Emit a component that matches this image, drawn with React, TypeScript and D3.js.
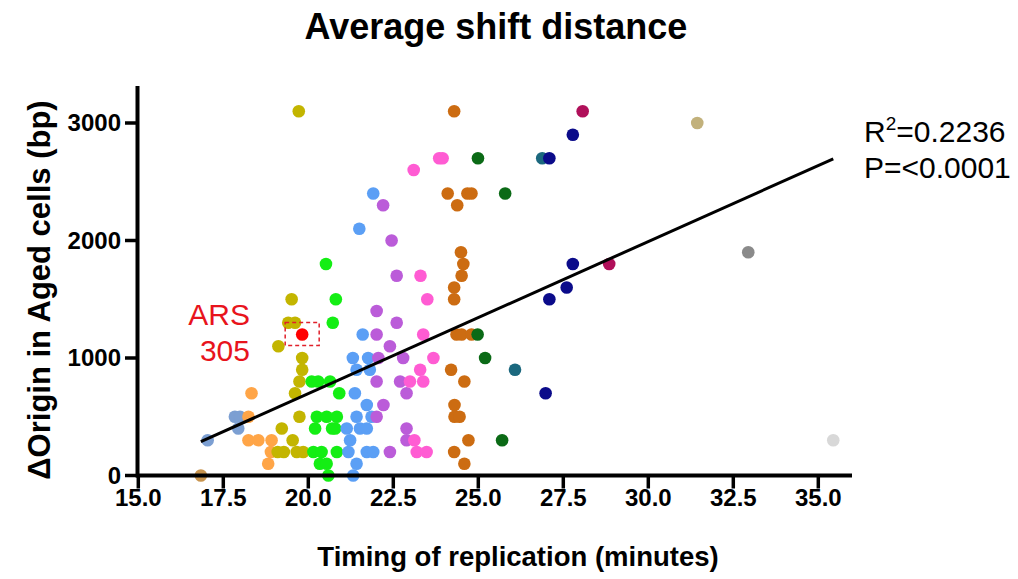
import React from "react";
import * as d3 from "d3";

// ---- data (timing of replication in minutes, ΔOrigin in bp) ----
const tan: [number, number][] = [[16.84, 0]];
const steelBlue: [number, number][] = [[17.04, 300], [17.84, 500], [17.99, 500], [17.94, 400]];
const lightOrange: [number, number][] = [
  [18.33, 700], [18.24, 500], [18.24, 300], [18.53, 300], [18.92, 300], [18.9, 200], [18.82, 100],
];
const olive: [number, number][] = [
  [19.72, 3100], [19.51, 1500], [19.41, 1300], [19.61, 1300], [19.12, 1100], [19.82, 1000],
  [19.82, 900], [19.74, 800], [19.61, 700], [19.74, 500], [19.22, 400], [19.54, 300],
  [19.1, 200], [19.28, 200], [19.66, 200], [19.85, 200],
];
const ars305: [number, number][] = [[19.82, 1200]];
const green: [number, number][] = [
  [20.52, 1800], [20.81, 1500], [20.72, 1300], [20.1, 800], [20.29, 800], [20.64, 800],
  [20.91, 700], [20.25, 500], [20.54, 500], [20.84, 500], [20.2, 400], [20.7, 400], [20.79, 400],
  [20.15, 200], [20.39, 200], [20.84, 200], [20.34, 100], [20.54, 100], [20.59, 0],
];
const blue: [number, number][] = [
  [21.91, 2400], [21.5, 2100], [21.6, 1200], [21.31, 1000], [21.76, 1000], [21.42, 900],
  [21.81, 900], [21.37, 700], [21.72, 600], [21.42, 500], [21.86, 500], [21.13, 400],
  [21.52, 400], [21.72, 400], [21.23, 300], [21.18, 200], [21.72, 200], [21.91, 200],
  [21.42, 100], [21.32, 0],
];
const purple: [number, number][] = [
  [22.2, 2300], [22.45, 2000], [22.6, 1700], [22.01, 1400], [22.6, 1300], [22.01, 1200],
  [22.4, 1100], [22.06, 1000], [22.79, 1000], [22.01, 800], [22.7, 800], [22.89, 700],
  [22.21, 600], [22.01, 500], [22.89, 400], [22.89, 300], [22.4, 200],
];
const pink: [number, number][] = [
  [23.85, 2700], [23.95, 2700], [23.1, 2600], [23.3, 1700], [23.5, 1500], [23.38, 1200],
  [23.68, 1000], [23.29, 900], [22.99, 800], [23.38, 800], [23.12, 300], [23.19, 200], [23.48, 200],
];
const brown: [number, number][] = [
  [24.29, 3100], [24.1, 2400], [24.68, 2400], [24.8, 2400], [24.38, 2300], [24.49, 1900],
  [24.56, 1800], [24.51, 1700], [24.29, 1600], [24.29, 1500], [24.36, 1200], [24.51, 1200],
  [24.8, 1200], [24.2, 900], [24.59, 800], [24.3, 600], [24.3, 500], [24.45, 500],
  [24.71, 300], [24.29, 200], [24.59, 100],
];
const darkGreen: [number, number][] = [[24.99, 2700], [25.79, 2400], [24.98, 1200], [25.2, 1000], [25.7, 300]];
const teal: [number, number][] = [[26.88, 2700], [26.08, 900]];
const navy: [number, number][] = [
  [27.09, 2700], [27.78, 2900], [27.78, 1800], [27.6, 1600], [27.09, 1500], [26.98, 700],
];
const crimson: [number, number][] = [[28.07, 3100], [28.85, 1800]];
const khaki: [number, number][] = [[31.44, 3000]];
const gray: [number, number][] = [[32.94, 1900]];
const lightGray: [number, number][] = [[35.44, 300]];

const groups: { pts: [number, number][]; color: string }[] = [
  { pts: tan, color: "#c8944e" },
  { pts: steelBlue, color: "#7c9fd2" },
  { pts: lightOrange, color: "#ffa547" },
  { pts: olive, color: "#c3b500" },
  { pts: green, color: "#14ee14" },
  { pts: blue, color: "#5b9ff5" },
  { pts: purple, color: "#bb5cd9" },
  { pts: pink, color: "#ff5cd3" },
  { pts: brown, color: "#cc6c12" },
  { pts: darkGreen, color: "#0b6a16" },
  { pts: teal, color: "#1b687e" },
  { pts: navy, color: "#0b0b8a" },
  { pts: crimson, color: "#b0105a" },
  { pts: khaki, color: "#c2b17b" },
  { pts: gray, color: "#8a8a8a" },
  { pts: lightGray, color: "#d8d8d8" },
  { pts: ars305, color: "#ff0000" },
];

const xTicks = [15, 17.5, 20, 22.5, 25, 27.5, 30, 32.5, 35];
const yTicks = [0, 1000, 2000, 3000];
const fitSlope = 129.4;
const fitIntercept = -1891;
const rSquared = "0.2236";
const pValue = "<0.0001";

const FONT = "'Liberation Sans', Arial, Helvetica, sans-serif";

export default function App() {
  const x = d3.scaleLinear().domain([15, 36]).range([138.3, 852.3]);
  const y = d3.scaleLinear().domain([0, 3300]).range([475.5, 87.75]);

  const all = groups.flatMap((g) => g.pts);
  const xMin = d3.min(all, (d) => d[0])!;
  const xMax = d3.max(all, (d) => d[0])!;
  const fitLine = d3.line<number>()
    .x((v) => x(v))
    .y((v) => y(fitSlope * v + fitIntercept))([xMin, xMax]);

  const ars = ars305[0];

  return (
    <div style={{ position: "absolute", left: 0, top: 0 }}>
      <svg width={1018} height={579} style={{ display: "block", background: "#fff" }} fontFamily={FONT}>
        <text x={496} y={39} textAnchor="middle" fontSize={36} fontWeight="bold">
          Average shift distance
        </text>

        {/* points */}
        {groups.map((g, gi) =>
          g.pts.map((p, i) => (
            <circle key={gi + "-" + i} cx={x(p[0])} cy={y(p[1])} r={6.3} fill={g.color} />
          ))
        )}

        {/* regression line */}
        <path d={fitLine ?? ""} stroke="#000" strokeWidth={3} fill="none" />

        {/* ARS305 highlight */}
        <rect x={x(ars[0]) - 17} y={y(ars[1]) - 12} width={34} height={23} fill="none"
          stroke="#e0202a" strokeWidth={1.5} strokeDasharray="4,3" />
        <text x={250} y={325} textAnchor="end" fontSize={30} fill="#e8141c">ARS</text>
        <text x={250} y={361} textAnchor="end" fontSize={30} fill="#e8141c">305</text>

        {/* axes */}
        <line x1={x(15) - 2} x2={852} y1={y(0)} y2={y(0)} stroke="#000" strokeWidth={4} />
        <line x1={137.5} x2={137.5} y1={86} y2={y(0) + 2} stroke="#000" strokeWidth={4} />
        {xTicks.map((t) => (
          <g key={"xt" + t}>
            <line x1={x(t)} x2={x(t)} y1={y(0)} y2={y(0) + 13} stroke="#000" strokeWidth={3.5} />
            <text x={x(t)} y={506} textAnchor="middle" fontSize={24} fontWeight="bold">
              {t.toFixed(1)}
            </text>
          </g>
        ))}
        {yTicks.map((t) => (
          <g key={"yt" + t}>
            <line x1={125} x2={137.5} y1={y(t)} y2={y(t)} stroke="#000" strokeWidth={3.5} />
            <text x={121} y={y(t) + 8} textAnchor="end" fontSize={24} fontWeight="bold">
              {t}
            </text>
          </g>
        ))}

        <text x={518} y={566} textAnchor="middle" fontSize={27.5} fontWeight="bold">
          Timing of replication (minutes)
        </text>
        <text transform={`translate(50,${290}) rotate(-90)`} textAnchor="middle" fontSize={31} fontWeight="bold">
          ΔOrigin in Aged cells (bp)
        </text>

        {/* statistics */}
        <text x={864} y={142} fontSize={30}>
          R<tspan fontSize={19} dy={-12}>2</tspan><tspan dy={12}>={rSquared}</tspan>
        </text>
        <text x={864} y={178} fontSize={30}>P={pValue}</text>
      </svg>
    </div>
  );
}
